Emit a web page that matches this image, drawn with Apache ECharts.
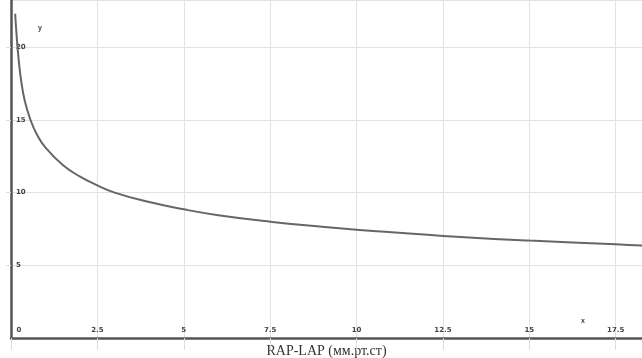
<!DOCTYPE html>
<html>
<head>
<meta charset="utf-8">
<script src="https://cdn.jsdelivr.net/npm/echarts@6/dist/echarts.min.js"></script>
<style>html,body{margin:0;padding:0;background:#fff}#c{width:642px;height:358px}</style>
</head>
<body>
<div id="c"></div>
<script>
// Curve values
const xValues = [0.12, 0.16, 0.22, 0.3, 0.4, 0.55, 0.75, 1.0, 1.5, 2.0, 2.5, 3.0, 4.0, 5.0, 6.0, 7.5, 9.0, 10.0, 12.5, 15.0, 17.5, 18.3];
const yValues = [22.3, 20.9, 19.2, 17.6, 16.3, 15.1, 14.0, 13.1, 11.9, 11.1, 10.5, 10.0, 9.35, 8.85, 8.45, 8.0, 7.65, 7.45, 7.02, 6.7, 6.45, 6.35];
const xAxisTitle = 'RAP-LAP (мм.рт.ст)';
const xVarLabel = 'x';
const yVarLabel = 'y';

const chart = echarts.init(document.getElementById('c'));
const pts = xValues.map((x, i) => [x, yValues[i]]);
chart.setOption({
  animation: false,
  backgroundColor: '#fff',
  grid: { left: 11, right: 0, top: 0, bottom: 20, containLabel: false, outerBoundsMode: 'none' },
  xAxis: {
    type: 'value', min: 0, max: 18.26, interval: 2.5,
    name: xAxisTitle, nameLocation: 'middle', nameGap: 6,
    nameTextStyle: { fontFamily: 'Liberation Serif', fontSize: 14, color: '#333', verticalAlign: 'top' },
    axisLine: { show: true, lineStyle: { color: '#555', width: 2.5 } },
    axisTick: { show: true, inside: false, length: 12, lineStyle: { color: '#ddd', width: 1 } },
    splitLine: { show: true, lineStyle: { color: '#e2e2e2', width: 1 } },
    axisLabel: {
      inside: true, margin: 4, showMaxLabel: false,
      fontSize: 7, fontWeight: 'bold', color: '#444', fontFamily: 'DejaVu Sans',
      formatter: v => v === 0 ? '{z|0}' : String(v),
      rich: { z: { padding: [0, 0, 0, 16], fontSize: 7, fontWeight: 'bold', color: '#444' } }
    }
  },
  yAxis: {
    type: 'value', min: 0, max: 23.25, interval: 5,
    axisLine: { show: true, lineStyle: { color: '#555', width: 2.5 } },
    axisTick: { show: true, inside: false, length: 5, lineStyle: { color: '#ddd', width: 1 } },
    splitLine: { show: true, lineStyle: { color: '#e2e2e2', width: 1 } },
    axisLabel: {
      inside: true, margin: 5, showMinLabel: false, showMaxLabel: false,
      fontSize: 7, fontWeight: 'bold', color: '#444', fontFamily: 'DejaVu Sans',
      padding: [4, 0, 0, 0]
    }
  },
  graphic: [
    { type: 'text', left: 38, top: 25, style: { text: yVarLabel, fontSize: 7, fontWeight: 'bold', fill: '#444' } },
    { type: 'text', left: 581, top: 318, style: { text: xVarLabel, fontSize: 7, fontWeight: 'bold', fill: '#444' } }
  ],
  series: [{
    type: 'line', data: pts, smooth: true, showSymbol: false,
    lineStyle: { color: '#666', width: 2 }
  }]
});
</script>
</body>
</html>
